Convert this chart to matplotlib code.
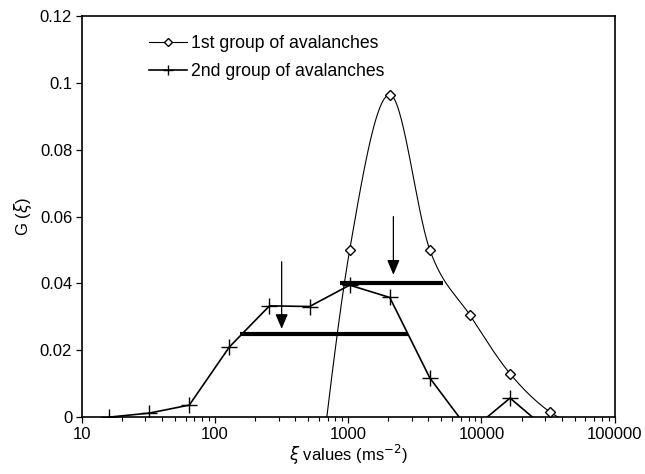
import numpy as np
import matplotlib
matplotlib.use("Agg")
import matplotlib.pyplot as plt
from matplotlib.ticker import LogLocator, NullFormatter, FixedLocator

plt.rcParams['font.family'] = ['Liberation Sans', 'DejaVu Sans']

# 1st group (smoothed curve; first/last entries are the off-axis curve ends, no markers)
g1_x = [500, 1024, 2048, 4096, 8192, 16384, 32768, 65536]
g1_y = [-0.045, 0.050, 0.0965, 0.050, 0.0305, 0.013, 0.0015, -0.004]
g1_marked = [1, 2, 3, 4, 5, 6]

# 2nd group (straight segments)
g2_x = [16, 32, 64, 128, 256, 512, 1024, 2048, 4096, 8192, 16384, 32768]
g2_y = [0.0, 0.0012, 0.0036, 0.021, 0.0333, 0.0331, 0.0395, 0.0358, 0.0117, -0.0043, 0.0057, -0.0045]
g2_marked = list(range(0, 9)) + [10]

# horizontal bars (x start, x end, y)
bars_x0 = [155, 870]
bars_x1 = [2830, 5100]
bars_y = [0.025, 0.040]

# arrows (x, y top, y tip)
arr_x = [316, 2180]
arr_ytop = [0.0465, 0.060]
arr_ytip = [0.0264, 0.0426]

yticks = [0, 0.02, 0.04, 0.06, 0.08, 0.1, 0.12]
ytick_labels = ['0', '0.02', '0.04', '0.06', '0.08', '0.1', '0.12']
xticks = [10, 100, 1000, 10000, 100000]
xtick_labels = ['10', '100', '1000', '10000', '100000']


def catmull_rom(xs, ys, n=60):
    px = np.log10(np.asarray(xs, float))
    py = np.asarray(ys, float)
    px = np.concatenate([[2 * px[0] - px[1]], px, [2 * px[-1] - px[-2]]])
    py = np.concatenate([[2 * py[0] - py[1]], py, [2 * py[-1] - py[-2]]])
    ox, oy = [], []
    for i in range(1, len(px) - 2):
        t = np.linspace(0, 1, n)
        for arr, out in ((px, ox), (py, oy)):
            p0, p1, p2, p3 = arr[i - 1], arr[i], arr[i + 1], arr[i + 2]
            m1 = (p2 - p0) / 2.0
            m2 = (p3 - p1) / 2.0
            h00 = 2 * t**3 - 3 * t**2 + 1
            h10 = t**3 - 2 * t**2 + t
            h01 = -2 * t**3 + 3 * t**2
            h11 = t**3 - t**2
            out.extend(h00 * p1 + h10 * m1 + h01 * p2 + h11 * m2)
    return 10 ** np.array(ox), np.array(oy)


fig = plt.figure(figsize=(6.45, 4.74), dpi=100)
ax = fig.add_axes([0.127, 0.120, 0.826, 0.846])

cx, cy = catmull_rom(g1_x, g1_y)
ax.plot(cx, cy, color='black', lw=0.8, zorder=3)
ax.plot([g1_x[i] for i in g1_marked], [g1_y[i] for i in g1_marked], ls='none',
        marker='D', ms=5.5, mfc='white', mec='black', mew=1.0, zorder=5)
ax.plot(g2_x, g2_y, color='black', lw=1.2, zorder=4)
ax.plot([g2_x[i] for i in g2_marked], [g2_y[i] for i in g2_marked], ls='none',
        marker='+', ms=11, mec='black', mew=1.0, zorder=5)

for x0, x1, y in zip(bars_x0, bars_x1, bars_y):
    ax.plot([x0, x1], [y, y], color='black', lw=3.0, solid_capstyle='butt', zorder=4)

for x, yt, yp in zip(arr_x, arr_ytop, arr_ytip):
    ax.annotate('', xy=(x, yp), xytext=(x, yt),
                arrowprops=dict(arrowstyle='-|>,head_length=0.9,head_width=0.38',
                                color='black', lw=0.9, shrinkA=0, shrinkB=0), zorder=6)

# legend proxies
l1, = ax.plot([], [], color='black', lw=0.8, marker='D', ms=4.5, mfc='white', mec='black')
l2, = ax.plot([], [], color='black', lw=1.2, marker='+', ms=7)
leg = ax.legend([l1, l2], ['1st group of avalanches', '2nd group of avalanches'],
                loc='upper left', bbox_to_anchor=(0.125, 0.953), frameon=False,
                borderaxespad=0, borderpad=0,
                fontsize=12.7, handlelength=2.2, handletextpad=0.2, labelspacing=0.62)

ax.set_xscale('log')
ax.set_xlim(10, 100000)
ax.set_ylim(0, 0.12)
ax.set_yticks(yticks)
ax.set_yticklabels(ytick_labels)
ax.xaxis.set_major_locator(FixedLocator(xticks))
ax.set_xticklabels(xtick_labels)
ax.xaxis.set_minor_locator(LogLocator(base=10, subs=np.arange(2, 10)))
ax.xaxis.set_minor_formatter(NullFormatter())
ax.tick_params(axis='both', which='major', direction='out', length=4, width=0.9,
               labelsize=12, color='black', pad=3)
ax.tick_params(axis='x', which='minor', direction='out', length=3, width=0.8)
for s in ax.spines.values():
    s.set_linewidth(1.2)
ax.set_ylabel(r'G ($\xi$)', fontsize=12, labelpad=4)
ax.set_xlabel(r'$\xi$ values (ms$^{-2}$)', fontsize=12, labelpad=1)

fig.savefig('out.png', dpi=100)
